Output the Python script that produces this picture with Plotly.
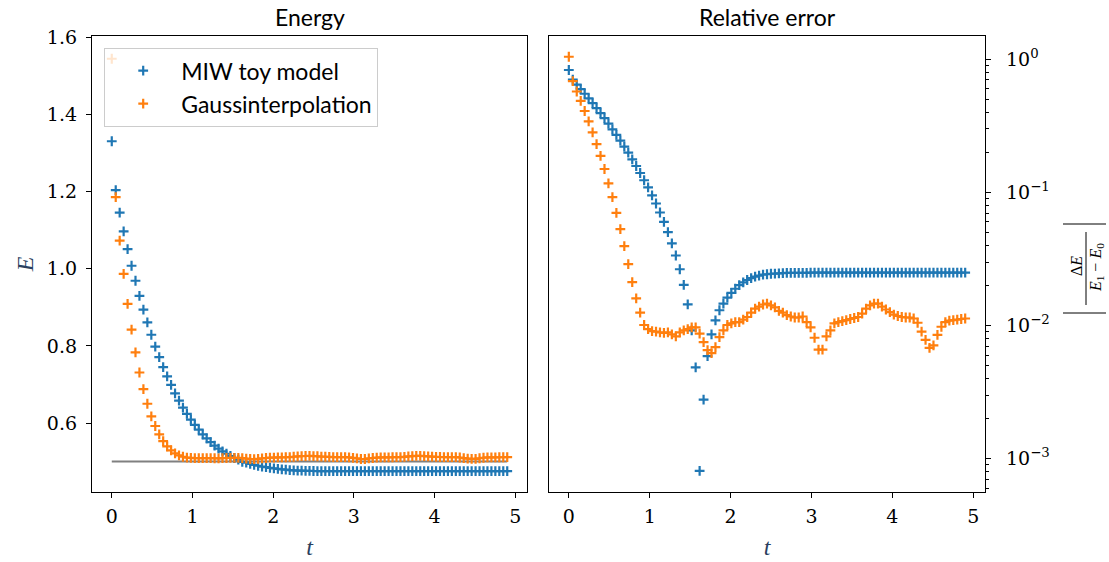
import numpy as np
import plotly.graph_objects as go

# ---------------- data ----------------
E0 = 0.5          # ground-state energy
E1 = 1.5          # first excited energy
T_END = 4.9
N_STEPS = 100
t = np.linspace(0.0, T_END, N_STEPS + 1)

E_miw = [
    1.331, 1.204, 1.146, 1.097, 1.051, 1.008, 0.969, 0.930, 0.894, 0.861,
    0.829, 0.798, 0.771, 0.745, 0.721, 0.699, 0.677, 0.658, 0.640, 0.6235,
    0.6090, 0.5949, 0.5826, 0.5707, 0.5601, 0.5503, 0.5414, 0.5336, 0.5265, 0.5202,
    0.51445, 0.5092, 0.50485, 0.49919, 0.49722, 0.4941, 0.4914, 0.48904, 0.48697, 0.48537,
    0.4838, 0.4824, 0.4811, 0.4799, 0.4789, 0.4780, 0.4773, 0.4767, 0.4763, 0.4759,
    0.4757, 0.4755, 0.4754, 0.4753, 0.4752, 0.4751, 0.4751, 0.4751, 0.4751, 0.4751,
    0.4751, 0.4750, 0.4750, 0.4750, 0.4750, 0.4750, 0.4750, 0.4750, 0.4750, 0.4750,
    0.4750, 0.4750, 0.4750, 0.4750, 0.4750, 0.4750, 0.4750, 0.4750, 0.4750, 0.4750,
    0.4750, 0.4750, 0.4750, 0.4750, 0.4750, 0.4750, 0.4750, 0.4750, 0.4750, 0.4750,
    0.4750, 0.4750, 0.4750, 0.4750, 0.4750, 0.4750, 0.4750, 0.4750, 0.4750, 0.4750,
    0.4750,
]

E_gauss = [
    1.545, 1.186, 1.073, 0.987, 0.909, 0.842, 0.783, 0.731, 0.688, 0.650,
    0.617, 0.5922, 0.5703, 0.5530, 0.5395, 0.5289, 0.5212, 0.5160, 0.5125, 0.5101,
    0.5094, 0.5091, 0.5090, 0.5089, 0.5088, 0.5089, 0.5086, 0.5083, 0.5089, 0.5092,
    0.5094, 0.5097, 0.5097, 0.5087, 0.5075, 0.50655, 0.5062, 0.5069, 0.5082, 0.5092,
    0.5101, 0.5104, 0.5106, 0.5106, 0.5111, 0.5116, 0.5125, 0.5134, 0.5139, 0.5144,
    0.5146, 0.5142, 0.5137, 0.5129, 0.5125, 0.5120, 0.5117, 0.5115, 0.5115, 0.5117,
    0.5106, 0.5097, 0.5081, 0.5066, 0.5066, 0.5083, 0.5092, 0.5104, 0.5106, 0.5108,
    0.5110, 0.5112, 0.5114, 0.5116, 0.5123, 0.5134, 0.5142, 0.5146, 0.5146, 0.5139,
    0.5132, 0.5126, 0.5121, 0.5118, 0.5116, 0.5115, 0.5115, 0.5113, 0.5105, 0.5090,
    0.5078, 0.5068, 0.5071, 0.5085, 0.5098, 0.5106, 0.5109, 0.5110, 0.5111, 0.5112,
    0.5113,
]

SERIES_NAMES = ["MIW toy model", "Gaussinterpolation"]
COLORS = ["#1f77b4", "#ff7f0e"]
X_TICKS = [0, 1, 2, 3, 4, 5]
E_TICKS = [0.6, 0.8, 1.0, 1.2, 1.4, 1.6]
LOG_TICKS = [1e-3, 1e-2, 1e-1, 1e0]
LOG_TICK_TEXT = ["10<sup>−3</sup>", "10<sup>−2</sup>", "10<sup>−1</sup>", "10<sup>0</sup>"]

assert len(E_miw) == len(t) and len(E_gauss) == len(t)

rel_miw = np.abs(np.array(E_miw) - E0) / (E1 - E0)
rel_gauss = np.abs(np.array(E_gauss) - E0) / (E1 - E0)

# ---------------- figure ----------------
W, H = 1109, 562
ML, MR, MT, MB = 92, 124, 36, 70
PW, PH = W - ML - MR, H - MT - MB


def px(xp):
    return (xp - ML) / PW


def py(yp):
    return (H - MB - yp) / PH


SERIF = "DejaVu Serif, Liberation Serif, serif"
TSERIF = "Liberation Serif, DejaVu Serif, serif"
SANS = "Lato, Open Sans, sans-serif"

fig = go.Figure()

# reference ground state line
fig.add_trace(go.Scatter(x=[t[0], t[-1]], y=[E0, E0], mode="lines",
                         line=dict(color="#808080", width=2),
                         showlegend=False, xaxis="x", yaxis="y", hoverinfo="skip"))

for name, col, e, r, g in zip(SERIES_NAMES, COLORS, [E_miw, E_gauss],
                              [rel_miw, rel_gauss], ["a", "b"]):
    mk = dict(symbol="cross-thin", size=7, line=dict(color=col, width=2.2), color=col)
    fig.add_trace(go.Scatter(x=t, y=e, mode="markers", name=name, marker=mk,
                             legendgroup=g, xaxis="x", yaxis="y"))
    fig.add_trace(go.Scatter(x=t, y=r, mode="markers", name=name, marker=mk,
                             legendgroup=g, showlegend=False, xaxis="x2", yaxis="y2"))

axis_common = dict(showline=True, linecolor="black", linewidth=1.3, mirror=True,
                   showgrid=False, zeroline=False, ticks="outside", ticklen=5,
                   tickwidth=1.2, tickcolor="black", automargin=False,
                   tickfont=dict(family=SERIF, size=19, color="black"))

minor_vals = [m * 10.0 ** d for d in range(-4, 1) for m in range(2, 10)]

fig.update_layout(
    width=W, height=H,
    margin=dict(l=ML, r=MR, t=MT, b=MB, autoexpand=False),
    plot_bgcolor="white", paper_bgcolor="white",
    xaxis=dict(domain=[0, px(527)], range=[-0.245, 5.145], tickvals=X_TICKS,
               ticklabelstandoff=2,
               title=dict(text="<i>t</i>", font=dict(family=TSERIF, size=24), standoff=12),
               anchor="y", **axis_common),
    yaxis=dict(domain=[0, 1], range=[0.421, 1.604], tickvals=E_TICKS, tickformat=".1f",
               ticklabelstandoff=5,
               title=dict(text="<i>E</i>", font=dict(family=TSERIF, size=24), standoff=6),
               anchor="x", **axis_common),
    xaxis2=dict(domain=[px(549), 1], range=[-0.245, 5.145], tickvals=X_TICKS,
                ticklabelstandoff=2,
                title=dict(text="<i>t</i>", font=dict(family=TSERIF, size=24), standoff=12),
                anchor="y2", **axis_common),
    yaxis2=dict(domain=[0, 1], type="log", range=[-3.25, 0.175], side="right",
                tickvals=LOG_TICKS, ticktext=LOG_TICK_TEXT, anchor="x2",
                ticklabelstandoff=11,
                minor=dict(tickvals=minor_vals, ticks="outside", ticklen=3,
                           tickwidth=1, tickcolor="black"),
                **axis_common),
    legend=dict(x=px(104), y=py(48), xanchor="left", yanchor="top",
                bgcolor="rgba(255,255,255,0.8)", bordercolor="#cccccc", borderwidth=1.2,
                font=dict(family=SANS, size=23, color="black"),
                itemwidth=66, traceorder="grouped", tracegroupgap=0),
    showlegend=True,
)

annotations = [
    dict(text="Energy", x=(px(92) + px(527)) / 2, y=1, xref="paper", yref="paper",
         xanchor="center", yanchor="bottom", yshift=3, showarrow=False,
         font=dict(family=SANS, size=23, color="black")),
    dict(text="Relative error", x=(px(549) + px(985)) / 2, y=1, xref="paper", yref="paper",
         xanchor="center", yanchor="bottom", yshift=3, showarrow=False,
         font=dict(family=SANS, size=23, color="black")),
    dict(text="Δ<i>E</i>", x=px(1076), y=py(266), xref="paper", yref="paper",
         xanchor="center", yanchor="middle",
         textangle=-90, showarrow=False, font=dict(family=TSERIF, size=16, color="black")),
    dict(text="<i>E</i><sub>1</sub> − <i>E</i><sub>0</sub>", x=px(1096), y=py(268),
         xref="paper", yref="paper", xanchor="center", yanchor="middle",
         textangle=-90, showarrow=False,
         font=dict(family=TSERIF, size=16, color="black")),
]
fig.update_layout(annotations=annotations)

shapes = [
    dict(type="line", xref="paper", yref="paper", x0=px(1086), x1=px(1086),
         y0=py(232), y1=py(305), line=dict(color="black", width=1)),
    dict(type="line", xref="paper", yref="paper", x0=px(1063), x1=px(1106),
         y0=py(224), y1=py(224), line=dict(color="black", width=1)),
    dict(type="line", xref="paper", yref="paper", x0=px(1063), x1=px(1106),
         y0=py(313), y1=py(313), line=dict(color="black", width=1)),
]
fig.update_layout(shapes=shapes)

fig.write_html("out.html", config={"displayModeBar": False},
               post_script="document.body.style.margin='0px';document.body.style.overflow='hidden';")
